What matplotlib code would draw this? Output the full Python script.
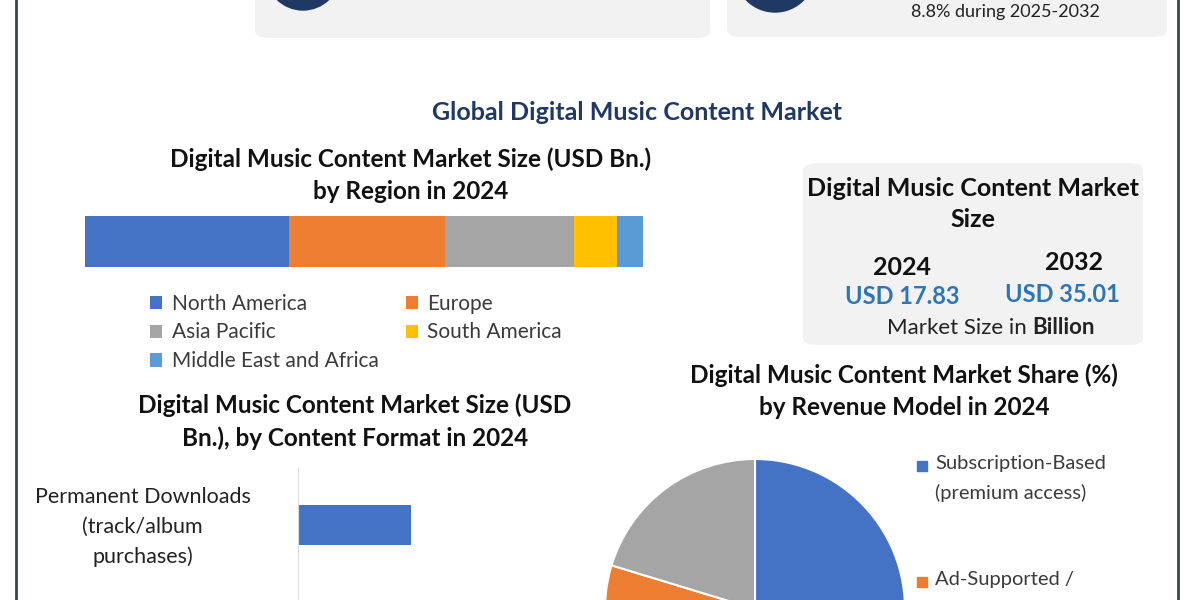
import matplotlib.pyplot as plt
import matplotlib.transforms as mtransforms
from matplotlib.patches import FancyBboxPatch, Ellipse, Rectangle

# ---- data ----
regions = ["North America", "Europe", "Asia Pacific", "South America", "Middle East and Africa"]
region_size = [6.52, 4.98, 4.12, 1.37, 0.83]          # USD Bn, 2024
region_colors = ["#4472c4", "#ed7d31", "#a5a5a5", "#ffc000", "#5b9bd5"]

market_years = ["2024", "2032"]
market_values = [17.83, 35.01]                          # USD Bn
cagr_text = "8.8% during 2025-2032"

revenue_models = ["Subscription-Based\n(premium access)", "Ad-Supported /", "Others"]
revenue_share = [55.0, 24.7, 20.3]                      # %
revenue_colors = ["#4472c4", "#ed7d31", "#a5a5a5"]

formats = ["Permanent Downloads\n(track/album\npurchases)"]
format_size = [2.17]                                    # USD Bn

W, H = 1200, 600
NAVY = "#1f3864"
TXT = "#3b3b3b"
BLUE_TXT = "#2e75b6"

plt.rcParams["font.family"] = ["Lato", "DejaVu Sans"]

fig = plt.figure(figsize=(12, 6), dpi=100)
fig.patch.set_facecolor("white")


def fx(x):
    return x / W


def fy(y):
    return 1 - y / H


def box(x0, y0, x1, y1, color="#f2f2f2"):
    p = FancyBboxPatch((fx(x0), fy(y1)), fx(x1) - fx(x0), fy(y0) - fy(y1),
                       boxstyle="round,pad=0,rounding_size=0.012",
                       transform=fig.transFigure, facecolor=color,
                       edgecolor="none", zorder=0)
    fig.patches.append(p)


# frame lines at left / right
for xl in (16, 1178):
    fig.add_artist(plt.Line2D([fx(xl), fx(xl)], [0, 1], color="#34474a",
                              lw=2, transform=fig.transFigure))

# top cards (cut off in the view)
box(255, -40, 710, 38)
box(727, -40, 1167, 37)
for cx, cy, r in ((303, -27, 37), (775, -28, 40)):
    fig.patches.append(Ellipse((fx(cx), fy(cy)), 2 * r / W, 2 * r / H,
                               transform=fig.transFigure, color=NAVY, zorder=1))
fig.text(fx(1005), fy(20), cagr_text, ha="center", va="bottom",
         fontsize=13, color="#222222")

# main title
fig.text(fx(637), fy(113), "Global Digital Music Content Market", ha="center",
         va="center", fontsize=18, fontweight="bold", color=NAVY)

# ---- stacked bar by region ----
fig.text(fx(411), fy(175), "Digital Music Content Market Size (USD Bn.)\nby Region in 2024",
         ha="center", va="center", fontsize=17.5, fontweight="bold",
         color="#111111", linespacing=1.5)

ax1 = fig.add_axes([fx(85), fy(267), fx(643) - fx(85), fy(216) - fy(267)])
left = 0
bars = []
for name, val, col in zip(regions, region_size, region_colors):
    b = ax1.barh(0, val, left=left, height=1, color=col, label=name)
    bars.append(b)
    left += val
ax1.set_xlim(0, sum(region_size))
ax1.set_ylim(-0.5, 0.5)
ax1.axis("off")

order = [0, 2, 4, 1, 3]
leg = fig.legend([bars[i] for i in order], [regions[i] for i in order], ncol=2,
                 loc="upper left", bbox_to_anchor=(fx(131), fy(275)),
                 frameon=False, fontsize=15, handlelength=0.6, handleheight=0.6,
                 handletextpad=0.45, labelspacing=0.42, columnspacing=1.3,
                 labelcolor=TXT)

# ---- market size box ----
box(803, 163, 1143, 345)
fig.text(fx(973), fy(204), "Digital Music Content Market\nSize", ha="center",
         va="center", fontsize=18, fontweight="bold", color="#111111",
         linespacing=1.45)
for yr, val, xy, xv, yy, yv in zip(market_years, market_values, (902, 1074),
                                    (902, 1062), (267, 262), (297, 294)):
    fig.text(fx(xy), fy(yy), yr, ha="center", va="center", fontsize=18,
             fontweight="bold", color="#111111")
    fig.text(fx(xv), fy(yv), f"USD {val:.2f}", ha="center", va="center",
             fontsize=17, fontweight="bold", color=BLUE_TXT)
fig.text(fx(1027), fy(328), "Market Size in", ha="right", va="center",
         fontsize=16, color="#222222")
fig.text(fx(1032), fy(328), "Billion", ha="left", va="center",
         fontsize=16, fontweight="bold", color="#222222")

# ---- pie by revenue model ----
fig.text(fx(904), fy(391), "Digital Music Content Market Share (%)\nby Revenue Model in 2024",
         ha="center", va="center", fontsize=17.5, fontweight="bold",
         color="#111111", linespacing=1.5)
ax2 = fig.add_axes([fx(605), fy(759), 300 / W, 300 / H])
ax2.pie(revenue_share, colors=revenue_colors, startangle=90, counterclock=False,
        wedgeprops=dict(edgecolor="white", linewidth=1.5))
ax2.set_xlim(-1, 1)
ax2.set_ylim(-1, 1)
ax2.set_aspect("equal")

# legend entries that fall inside the view (the rest run off the bottom)
for lab, col, yy in zip(revenue_models[:2], revenue_colors[:2], (466, 582)):
    fig.patches.append(Rectangle((fx(917), fy(yy + 5)), 10 / W, 10 / H,
                                 transform=fig.transFigure, color=col))
    fig.text(fx(935), fy(yy - 11), lab, ha="left", va="top", fontsize=14.5,
             color=TXT, linespacing=1.78)

# ---- bar by content format ----
fig.text(fx(355), fy(422), "Digital Music Content Market Size (USD\nBn.), by Content Format in 2024",
         ha="center", va="center", fontsize=17.5, fontweight="bold",
         color="#111111", linespacing=1.5)
ax3 = fig.add_axes([fx(298), fy(600), 260 / W, 132 / H])
ax3.barh(range(len(formats)), format_size, height=0.49, color="#4472c4")
ax3.set_xlim(0, 5)
ax3.set_ylim(0.9375, -0.7125)
ax3.set_yticks(range(len(formats)))
ax3.set_yticklabels(formats, fontsize=15.5, color="#222222", ha="center",
                    multialignment="center", linespacing=1.6)
ax3.tick_params(axis="y", length=0, pad=112)
shift = mtransforms.ScaledTranslation(0, 0.05, fig.dpi_scale_trans)
for lbl in ax3.get_yticklabels():
    lbl.set_transform(lbl.get_transform() + shift)
ax3.set_xticks([])
for s in ("top", "right", "bottom"):
    ax3.spines[s].set_visible(False)
ax3.spines["left"].set_color("#d9d9d9")

fig.savefig("out.png", dpi=100, facecolor="white")
